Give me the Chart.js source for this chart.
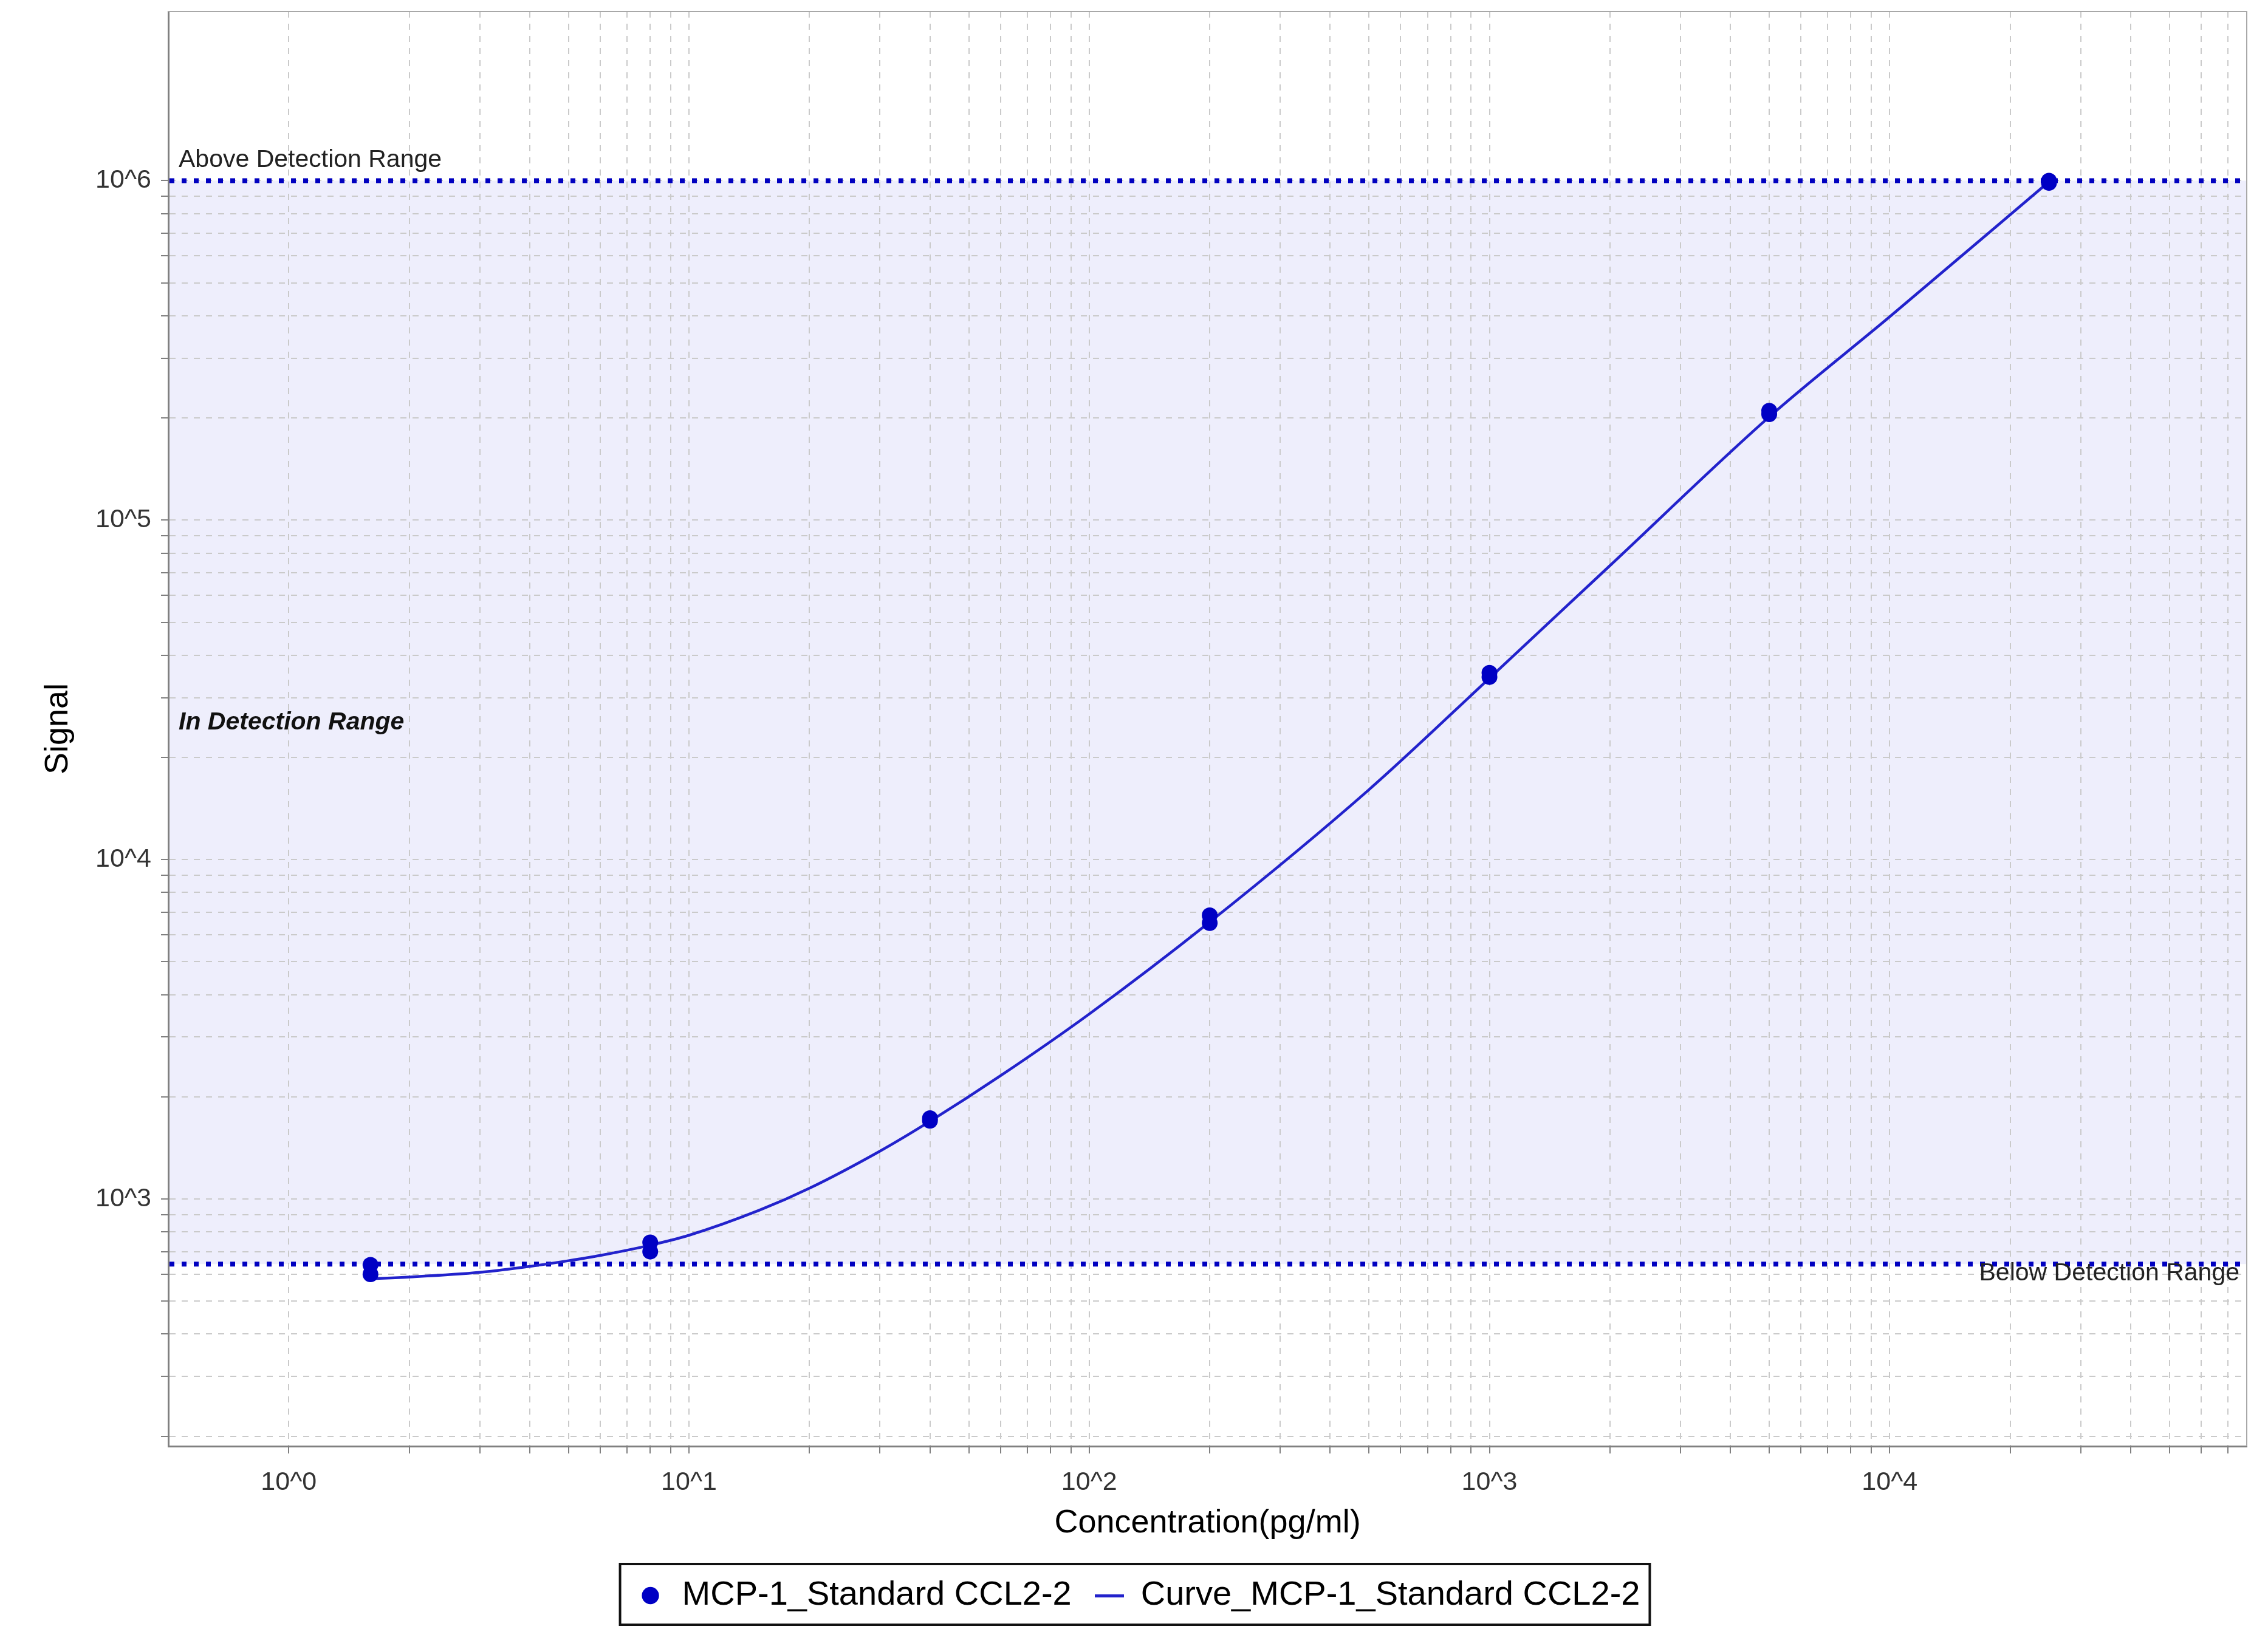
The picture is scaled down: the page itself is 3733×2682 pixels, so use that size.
<!DOCTYPE html>
<html>
<head>
<meta charset="utf-8">
<title>MCP-1 Standard Curve</title>
<script src="https://cdn.jsdelivr.net/npm/chart.js@4.4.1/dist/chart.umd.min.js"></script>
<style>
  html, body { margin: 0; padding: 0; background: #ffffff; }
  canvas { display: block; background: #ffffff; }
</style>
</head>
<body>
<canvas id="std-curve" width="3733" height="2682"></canvas>
<script>
  // standards: concentration (pg/ml) and the two replicate signals
  const standardConc = [1.6, 8, 40, 200, 1000, 5000, 25000];
  const replicateA = [600, 700, 1700, 6500, 34500, 205000, 985000];
  const replicateB = [640, 745, 1730, 6850, 35500, 210000, 1000000];

  // fitted curve
  const curveConc = [1.6, 2, 3, 4, 5, 6, 8, 10, 15, 20, 30, 40, 60, 100, 200, 500, 1000, 2000, 5000, 10000, 25000];
  const curveSignal = [582, 589, 608, 633, 658, 682, 731, 782, 927, 1076, 1384, 1694, 2307, 3508, 6546, 16070, 34230, 73450, 201400, 397200, 993000];

  const lowerLimit = 643;
  const upperLimit = 1000000;

  // axis range and grid/tick positions
  const xRange = [0.5, 78000];
  const yRange = [187, 3150000];
  const xGridFrom = 1;
  const xGridTo = 70000;
  const yGridFrom = 200;
  const yGridTo = 1000000;
  const xTickValues = [1, 10, 100, 1000, 10000];
  const xTickLabels = ["10^0", "10^1", "10^2", "10^3", "10^4"];
  const yTickValues = [1000, 10000, 100000, 1000000];
  const yTickLabels = ["10^3", "10^4", "10^5", "10^6"];

  const markerBlue = "#0000c4";
  const curveBlue = "#2222cc";
  const limitBlue = "#0000c0";
  const bandFill = "#eeeefc";
  const gridColor = "#cacaca";
  const axisGray = "#808080";

  Chart.defaults.font.family = "'Liberation Sans', Arial, sans-serif";
  Chart.defaults.color = "#333333";

  const standardPoints = [];
  standardConc.forEach((c, i) => {
    standardPoints.push({ x: c, y: replicateA[i] });
    standardPoints.push({ x: c, y: replicateB[i] });
  });
  const curvePoints = curveConc.map((c, i) => ({ x: c, y: curveSignal[i] }));

  // a grid line at every 1..9 multiple between from and to
  function logTicks(from, to) {
    return function (scale) {
      const out = [];
      const lo = Math.floor(Math.log10(from));
      const hi = Math.ceil(Math.log10(to));
      for (let e = lo; e <= hi; e++) {
        for (let m = 1; m <= 9; m++) {
          const v = Number((m * Math.pow(10, e)).toPrecision(6));
          if (v >= from && v <= to) out.push({ value: v });
        }
      }
      scale.ticks = out;
    };
  }

  function labelFor(values, labels) {
    return function (value) {
      const i = values.findIndex(v => Math.abs(v - value) / v < 1e-6);
      return i >= 0 ? labels[i] : "";
    };
  }

  function fixWidth(w) {
    return function (scale) {
      scale.width = w;
      scale.paddingTop = 0;
      scale.paddingBottom = 0;
    };
  }

  function fixHeight(h) {
    return function (scale) {
      scale.height = h;
      scale.paddingLeft = 0;
      scale.paddingRight = 0;
    };
  }

  const lineGlyph = document.createElement("canvas");
  lineGlyph.width = 48;
  lineGlyph.height = 5;
  const g = lineGlyph.getContext("2d");
  g.fillStyle = curveBlue;
  g.fillRect(0, 0, 48, 5);

  const rangePlugin = {
    id: "detectionRange",
    beforeDraw(chart) {
      const { ctx, chartArea: a, scales: { y } } = chart;
      const top = y.getPixelForValue(upperLimit);
      const bottom = y.getPixelForValue(lowerLimit);
      ctx.save();
      ctx.fillStyle = bandFill;
      ctx.fillRect(a.left, top, a.right - a.left, bottom - top);
      ctx.restore();
    },
    beforeDatasetsDraw(chart) {
      const { ctx, chartArea: a, scales: { y } } = chart;
      ctx.save();
      ctx.strokeStyle = limitBlue;
      ctx.lineWidth = 8;
      ctx.setLineDash([8, 12]);
      [upperLimit, lowerLimit].forEach(v => {
        const py = y.getPixelForValue(v);
        ctx.beginPath();
        ctx.moveTo(a.left + 2, py);
        ctx.lineTo(a.right, py);
        ctx.stroke();
      });
      ctx.restore();
    },
    afterDraw(chart) {
      const { ctx, chartArea: a, scales: { y } } = chart;
      ctx.save();
      // top and right frame
      ctx.strokeStyle = "#a8a8a8";
      ctx.lineWidth = 2;
      ctx.beginPath();
      ctx.moveTo(a.left, a.top);
      ctx.lineTo(a.right, a.top);
      ctx.lineTo(a.right, a.bottom);
      ctx.stroke();

      const upPx = y.getPixelForValue(upperLimit);
      const lowPx = y.getPixelForValue(lowerLimit);
      const midPx = y.getPixelForValue(Math.sqrt(upperLimit * lowerLimit));
      ctx.fillStyle = "#222222";
      ctx.font = "41px 'Liberation Sans', Arial, sans-serif";
      ctx.textAlign = "left";
      ctx.textBaseline = "alphabetic";
      ctx.fillText("Above Detection Range", a.left + 17, upPx - 22);
      ctx.textAlign = "right";
      ctx.fillText("Below Detection Range", a.right - 12, lowPx + 27);
      ctx.textAlign = "left";
      ctx.textBaseline = "middle";
      ctx.fillStyle = "#111111";
      ctx.font = "italic bold 41px 'Liberation Sans', Arial, sans-serif";
      ctx.fillText("In Detection Range", a.left + 17, midPx);

      // legend frame
      const boxes = chart.legend.legendHitBoxes;
      if (boxes && boxes.length) {
        const first = boxes[0];
        const last = boxes[boxes.length - 1];
        const cy = first.top + first.height / 2;
        ctx.strokeStyle = "#111111";
        ctx.lineWidth = 4;
        ctx.strokeRect(first.left - 26, cy - 52, last.left + last.width + 16 - (first.left - 26), 100);
      }
      ctx.restore();
    }
  };

  new Chart(document.getElementById("std-curve"), {
    type: "scatter",
    data: {
      datasets: [
        {
          label: "MCP-1_Standard CCL2-2",
          data: standardPoints,
          backgroundColor: markerBlue,
          borderWidth: 0,
          pointRadius: 13,
          pointHoverRadius: 13,
          pointStyle: "circle"
        },
        {
          type: "line",
          label: "Curve_MCP-1_Standard CCL2-2",
          data: curvePoints,
          borderColor: curveBlue,
          backgroundColor: curveBlue,
          borderWidth: 4.5,
          pointRadius: 0,
          cubicInterpolationMode: "monotone",
          fill: false
        }
      ]
    },
    options: {
      responsive: false,
      animation: false,
      devicePixelRatio: 1,
      events: [],
      layout: { padding: { top: 19, right: 35, left: 48, bottom: 17 } },
      plugins: {
        tooltip: { enabled: false },
        legend: {
          position: "bottom",
          labels: {
            usePointStyle: true,
            boxWidth: 48,
            boxHeight: 20,
            padding: 38,
            color: "#000000",
            font: { size: 56 },
            generateLabels(chart) {
              const items = Chart.defaults.plugins.legend.labels.generateLabels(chart);
              if (items[1]) items[1].pointStyle = lineGlyph;
              return items;
            }
          }
        }
      },
      scales: {
        x: {
          type: "logarithmic",
          position: "bottom",
          min: xRange[0],
          max: xRange[1],
          afterBuildTicks: logTicks(xGridFrom, xGridTo),
          afterFit: fixHeight(180),
          ticks: {
            autoSkip: false,
            maxRotation: 0,
            padding: 22,
            font: { size: 43 },
            color: "#333333",
            callback: labelFor(xTickValues, xTickLabels)
          },
          grid: { color: gridColor, lineWidth: 2, tickColor: axisGray, tickLength: 12, tickWidth: 2 },
          border: { display: true, color: axisGray, width: 3, dash: [10, 10] },
          title: {
            display: true,
            text: "Concentration(pg/ml)",
            color: "#000000",
            font: { size: 54 },
            padding: { top: 0, bottom: 20 }
          }
        },
        y: {
          type: "logarithmic",
          position: "left",
          min: yRange[0],
          max: yRange[1],
          afterBuildTicks: logTicks(yGridFrom, yGridTo),
          afterFit: fixWidth(229),
          ticks: {
            autoSkip: false,
            padding: 16,
            font: { size: 43 },
            color: "#333333",
            callback: labelFor(yTickValues, yTickLabels)
          },
          grid: { color: gridColor, lineWidth: 2, tickColor: axisGray, tickLength: 12, tickWidth: 2 },
          border: { display: true, color: axisGray, width: 3, dash: [10, 10] },
          title: {
            display: true,
            text: "Signal",
            color: "#000000",
            font: { size: 54 },
            padding: { top: 16, bottom: 0 }
          }
        }
      }
    },
    plugins: [rangePlugin]
  });
</script>
</body>
</html>
